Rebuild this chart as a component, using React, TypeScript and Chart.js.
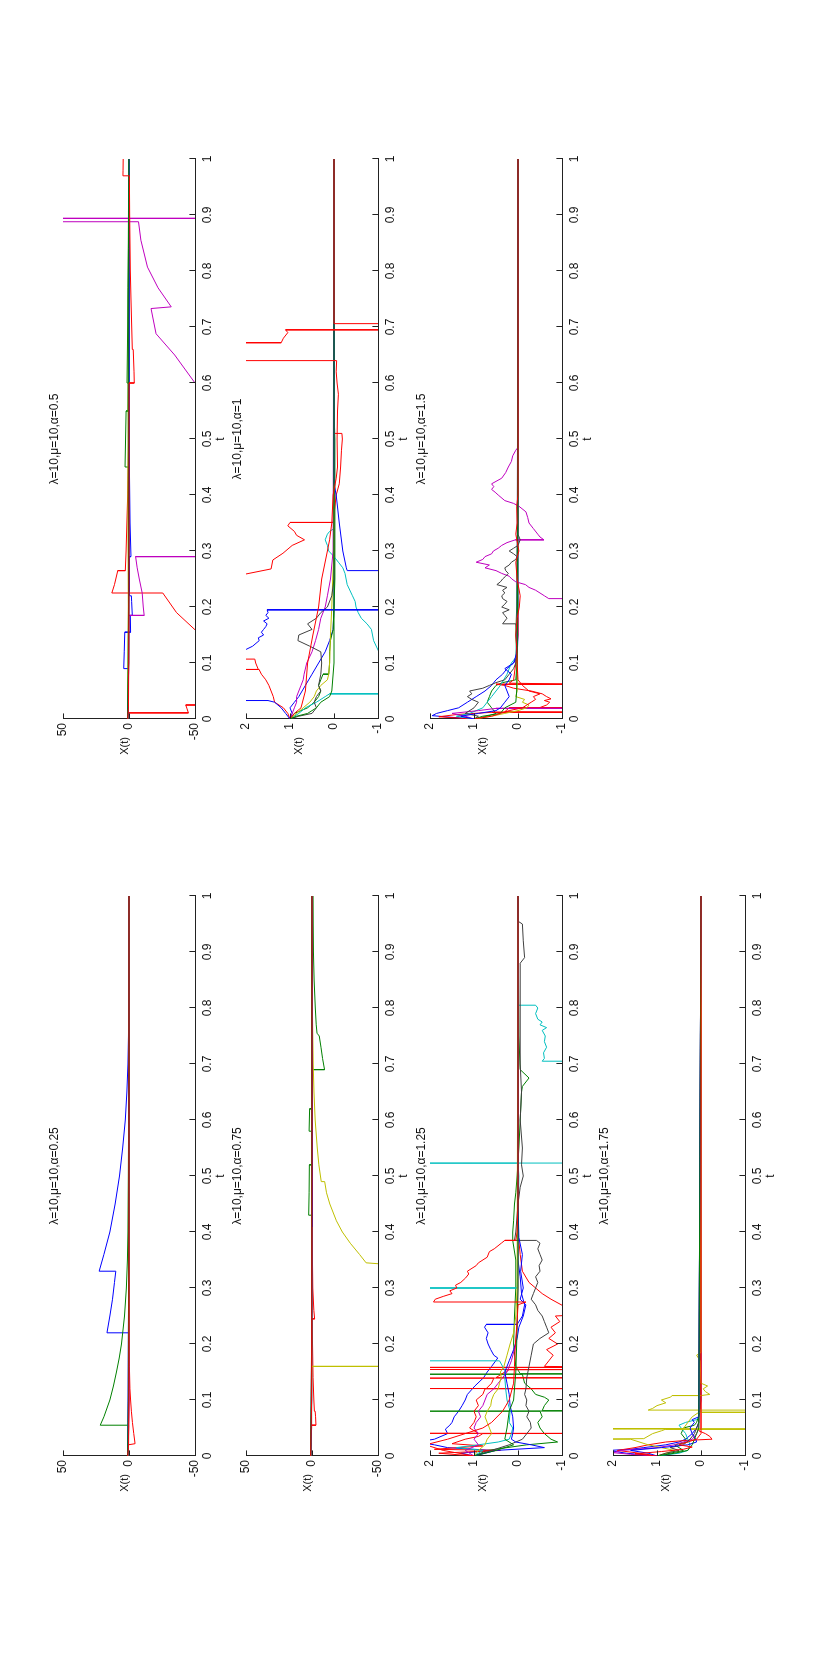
import React, { useEffect, useRef } from "react";
import { Chart, registerables } from "chart.js";

Chart.register(...registerables);

type Path = [number, number][];

// ---------- tick labels ----------
const T_TICKS = [0, 0.1, 0.2, 0.3, 0.4, 0.5, 0.6, 0.7, 0.8, 0.9, 1];
const BIG_TICKS = [-50, 0, 50];
const SMALL_TICKS = [-1, 0, 1, 2];

// ---------- alpha = 0.25 ----------
const p025_1: Path = [[0,1],[0.05,0.6],[0.1,0.4],[0.15,0.3],[0.22,0.2],[0.22,16.7],[0.25,14.5],[0.28,12.5],[0.31,11],[0.33,10],[0.33,22.6],[0.36,19],[0.4,14.5],[0.45,10.5],[0.5,7.2],[0.55,4.8],[0.6,2.8],[0.65,1.6],[0.7,0.8],[0.75,0.4],[0.85,0.1],[1,0]];
const p025_2: Path = [[0,1],[0.02,0.5],[0.055,0.3],[0.055,21.8],[0.07,19],[0.1,14.5],[0.125,11.8],[0.15,9.5],[0.175,7.4],[0.2,5.7],[0.25,3.4],[0.3,2],[0.35,1.2],[0.4,0.8],[0.5,0.5],[0.6,0.3],[0.7,0.1],[1,0]];
const p025_3: Path = [[0,1],[0.02,0.6],[0.022,-4.6],[0.04,-3.6],[0.06,-2.6],[0.08,-1.8],[0.1,-1.2],[0.12,-0.7],[0.16,-0.3],[0.2,-0.1],[1,0]];
const p025_4: Path = [[0,1],[0.05,0.5],[0.2,0.2],[0.5,0],[1,0]];
const p025_5: Path = [[0,1],[0.04,0.3],[0.1,-0.2],[0.3,0],[1,0]];
const p025_6: Path = [[0,1],[0.1,0.4],[0.4,0.1],[1,0]];
const p025_7: Path = [[0,1],[0.03,0.4],[0.2,0.1],[1,0]];
const p025_8: Path = [[0,1],[0.06,0.8],[0.3,0.3],[0.6,0.1],[1,0]];
const p025_9: Path = [[0,1],[0.1,0.5],[0.5,0.2],[0.61,0.1],[1,0]];
const p025_10: Path = [[0,1],[0.02,0.3],[0.1,0.1],[1,0]];

// ---------- alpha = 0.75 ----------
const p075_1: Path = [[0,1],[0.1,0.3],[0.4,0.1],[1,0]];
const p075_2: Path = [[0,1],[0.05,0.3],[0.43,0.1],[0.43,2.5],[0.47,2.2],[0.52,2],[0.52,0.3],[0.58,0.2],[0.58,2.2],[0.62,1.8],[0.62,0.3],[0.69,0.1],[0.69,-9.5],[0.71,-8],[0.73,-6.8],[0.75,-5.5],[0.755,-3.8],[0.77,-3.2],[0.8,-2.5],[0.85,-1.6],[0.9,-1.1],[0.95,-0.9],[1,-0.8]];
const p075_3: Path = [[0,1],[0.03,0.5],[0.055,0.3],[0.055,-3],[0.07,-2.7],[0.08,-2.4],[0.08,-1.8],[0.1,-1.4],[0.14,-0.8],[0.2,-0.4],[0.245,-0.2],[0.245,-2],[0.26,-1.4],[0.3,-0.6],[0.4,-0.1],[1,0]];
const p075_4: Path = [[0,1],[0.1,0.2],[1,0]];
const p075_5: Path = [[0,1],[0.05,0.4],[0.3,0.1],[1,0]];
const p075_6: Path = [[0,1],[0.05,0.5],[0.16,0.2],[0.16,-320],[0.2,-210],[0.25,-130],[0.3,-80],[0.343,-52],[0.345,-41],[0.36,-36],[0.38,-29],[0.4,-23],[0.42,-18.5],[0.45,-13.5],[0.47,-11],[0.49,-9.6],[0.49,-7],[0.52,-5.2],[0.55,-4],[0.6,-2.4],[0.65,-1.5],[0.7,-0.9],[0.8,-0.3],[1,-0.1]];
const p075_7: Path = [[0,1],[0.2,0.3],[0.6,0],[1,0]];
const p075_8: Path = [[0,1],[0.05,0.5],[0.35,0.2],[0.41,0.2],[0.41,-0.3],[0.6,-0.1],[1,0]];
const p075_9: Path = [[0,1],[0.2,0.2],[0.8,0.2],[0.88,0.3],[1,0.1]];
const p075_10: Path = [[0,1],[0.1,0.3],[0.5,0],[1,0]];

// ---------- alpha = 1.25 ----------
const p125_1: Path = [[0,1],[0.005,1.3],[0.01,0.6],[0.015,1.6],[0.02,1.9],[0.025,2.3],[0.03,1.9],[0.04,1.6],[0.048,1.65],[0.055,1.55],[0.06,1.5],[0.07,1.45],[0.08,1.35],[0.09,1.27],[0.1,1.2],[0.11,1.15],[0.125,0.98],[0.14,0.78],[0.15,0.7],[0.16,0.6],[0.175,0.46],[0.18,0.55],[0.19,0.62],[0.2,0.68],[0.21,0.72],[0.22,0.68],[0.23,0.76],[0.235,0.72],[0.235,0.02],[0.25,-0.1],[0.27,-0.15],[0.29,-0.08],[0.32,-0.05],[0.35,0],[1,0]];
const p125_2: Path = [[0,1],[0.01,0.7],[0.02,-0.2],[0.025,-0.9],[0.03,-0.75],[0.04,-0.6],[0.05,-0.5],[0.06,-0.45],[0.07,-0.55],[0.08,-0.5],[0.08,3],[0.0805,-3],[0.081,-0.55],[0.09,-0.6],[0.1,-0.7],[0.105,-0.6],[0.11,-0.4],[0.12,-0.3],[0.13,-0.15],[0.146,-0.1],[0.146,3],[0.1465,-3],[0.147,-0.05],[0.16,0.05],[0.2,0.1],[0.25,0.08],[0.3,0.05],[0.35,0.05],[0.385,0.12],[0.4,0.12],[0.42,0.1],[0.45,0.08],[0.47,0.05],[0.5,0.02],[0.55,-0.02],[0.6,-0.05],[0.65,-0.08],[0.66,-0.1],[0.675,-0.25],[0.69,-0.05],[0.75,-0.02],[1,0]];
const p125_3: Path = [[0,1],[0.005,1.8],[0.01,0.4],[0.012,1.9],[0.018,0.8],[0.022,1.5],[0.03,1.2],[0.035,0.9],[0.04,0.8],[0.04,3],[0.0405,-3],[0.041,0.9],[0.05,1.1],[0.06,1.0],[0.07,0.95],[0.08,1.0],[0.09,0.9],[0.1,0.95],[0.11,0.8],[0.12,0.75],[0.12,3],[0.1205,-3],[0.121,0.72],[0.13,0.6],[0.139,0.55],[0.139,3],[0.1395,-3],[0.14,0.5],[0.15,0.3],[0.154,0.2],[0.154,3],[0.1545,-3],[0.155,0.1],[0.158,0.05],[0.158,3],[0.1585,-3],[0.16,-0.6],[0.17,-0.7],[0.18,-0.8],[0.19,-0.65],[0.2,-0.9],[0.21,-0.7],[0.22,-0.85],[0.23,-0.75],[0.24,-0.95],[0.25,-0.85],[0.255,-2],[0.265,-1.1],[0.28,-0.75],[0.29,-0.55],[0.3,-0.4],[0.31,-0.25],[0.33,-0.1],[0.36,-0.05],[0.4,0],[1,0]];
const p125_4: Path = [[0,1],[0.01,0.8],[0.015,1.4],[0.02,0.9],[0.025,0.45],[0.03,0.2],[0.04,0.15],[0.05,0.12],[0.06,0.2],[0.08,0.18],[0.1,0.25],[0.12,0.28],[0.14,0.3],[0.15,0.28],[0.17,0.42],[0.17,20],[0.3,5.7],[0.3,0.02],[0.32,0.01],[0.4,0],[0.5,-0.02],[0.523,0],[0.523,3],[0.524,-25],[0.55,-17],[0.6,-10],[0.65,-6],[0.705,-3.3],[0.705,-0.55],[0.71,-0.6],[0.72,-0.58],[0.73,-0.65],[0.74,-0.6],[0.75,-0.62],[0.76,-0.55],[0.765,-0.65],[0.77,-0.5],[0.775,-0.55],[0.78,-0.45],[0.79,-0.4],[0.8,-0.45],[0.805,-0.4],[0.805,0],[1,0]];
const p125_5: Path = [[0,1],[0.01,1.2],[0.02,0.9],[0.03,1.0],[0.04,0.9],[0.05,1.0],[0.06,0.95],[0.07,0.85],[0.08,0.9],[0.09,0.8],[0.1,0.75],[0.11,0.7],[0.12,0.55],[0.13,0.45],[0.14,0.35],[0.15,0.25],[0.17,0.15],[0.2,0.05],[0.23,0.02],[0.3,0],[1,0]];
const p125_6: Path = [[0,1],[0.01,0.9],[0.02,0.75],[0.03,0.7],[0.04,0.6],[0.05,0.65],[0.06,0.7],[0.07,0.75],[0.08,0.7],[0.09,0.62],[0.1,0.6],[0.11,0.55],[0.12,0.45],[0.13,0.42],[0.14,0.38],[0.15,0.4],[0.16,0.32],[0.18,0.25],[0.2,0.18],[0.22,0.1],[0.25,0.05],[0.3,0.02],[1,0]];
const p125_7: Path = [[0,1],[0.01,0.6],[0.02,0.2],[0.03,-0.1],[0.04,-0.2],[0.05,-0.3],[0.06,-0.28],[0.07,-0.2],[0.08,-0.25],[0.09,-0.18],[0.1,-0.2],[0.11,-0.15],[0.12,-0.18],[0.14,-0.2],[0.16,-0.25],[0.18,-0.3],[0.2,-0.35],[0.21,-0.5],[0.22,-0.7],[0.23,-0.65],[0.24,-0.6],[0.25,-0.55],[0.26,-0.45],[0.27,-0.4],[0.28,-0.3],[0.29,-0.35],[0.3,-0.4],[0.31,-0.45],[0.32,-0.4],[0.33,-0.5],[0.34,-0.48],[0.35,-0.55],[0.36,-0.5],[0.37,-0.45],[0.38,-0.5],[0.385,-0.42],[0.385,0.08],[0.4,0.05],[0.45,0],[0.48,-0.05],[0.5,-0.12],[0.52,-0.08],[0.55,-0.1],[0.6,-0.05],[0.65,-0.08],[0.7,-0.05],[0.8,-0.05],[0.88,-0.05],[0.89,-0.15],[0.92,-0.12],[0.95,-0.1],[0.955,0],[1,0]];
const p125_8: Path = [[0,1],[0.01,0.5],[0.015,-0.6],[0.02,-0.3],[0.025,0.05],[0.03,0.15],[0.04,0.12],[0.05,0.1],[0.07,0.12],[0.09,0.18],[0.11,0.2],[0.13,0.25],[0.15,0.3],[0.17,0.2],[0.19,0.1],[0.21,0.02],[0.23,-0.02],[0.25,-0.12],[0.27,-0.18],[0.28,-0.05],[0.3,-0.12],[0.33,-0.06],[0.36,-0.1],[0.39,-0.02],[0.45,0],[1,0]];
const p125_9: Path = [[0,1],[0.01,0.5],[0.02,0.1],[0.03,0.3],[0.05,0.25],[0.08,0.2],[0.1,0.1],[0.15,0.05],[0.2,0.03],[0.3,0],[1,0]];
const p125_10: Path = [[0,1],[0.01,1.7],[0.02,2.1],[0.03,1.6],[0.04,1.2],[0.05,0.8],[0.06,0.6],[0.08,0.35],[0.1,0.2],[0.13,0.1],[0.16,0.08],[0.2,0.06],[0.24,0.02],[0.27,0],[0.275,-0.18],[0.275,1.92],[0.28,1.88],[0.285,1.7],[0.29,1.5],[0.295,1.55],[0.3,1.39],[0.305,1.42],[0.31,1.3],[0.318,1.19],[0.325,1.12],[0.33,1.15],[0.34,0.95],[0.345,0.9],[0.355,0.7],[0.365,0.65],[0.37,0.54],[0.38,0.38],[0.385,0.3],[0.385,0.05],[0.4,0.02],[0.45,0],[1,0]];

// ---------- alpha = 1.75 ----------
const p175_1: Path = [[0,1],[0.005,1.7],[0.01,2.1],[0.012,1.6],[0.015,1.3],[0.02,0.8],[0.025,0.5],[0.03,0.35],[0.04,0.2],[0.05,0.1],[0.06,0.05],[0.07,0.05],[0.1,0],[1,0]];
const p175_2: Path = [[0,1],[0.005,0.7],[0.01,0.4],[0.015,0.5],[0.02,0.6],[0.025,0.3],[0.03,0.35],[0.04,0.45],[0.05,0.4],[0.055,0.15],[0.06,0.1],[0.08,0.02],[1,0]];
const p175_3: Path = [[0,1],[0.005,1.4],[0.01,1.9],[0.015,1.5],[0.02,1.2],[0.025,0.8],[0.028,0.3],[0.03,-0.25],[0.035,-0.2],[0.04,-0.1],[0.045,0.05],[0.05,0],[1,0]];
const p175_4: Path = [[0,1],[0.005,0.5],[0.01,0.3],[0.02,0.25],[0.03,0.3],[0.04,0.35],[0.05,0.45],[0.055,0.5],[0.06,0.35],[0.065,0.1],[0.07,0.05],[1,0]];
const p175_5: Path = [[0,1],[0.003,1.6],[0.006,2.0],[0.01,1.8],[0.015,1.0],[0.02,0.6],[0.025,0.4],[0.03,0.2],[0.04,0.1],[0.05,0.05],[1,0]];
const p175_6: Path = [[0,1],[0.01,0.6],[0.02,1.2],[0.03,1.6],[0.03,3],[0.031,1.3],[0.04,1.1],[0.045,0.9],[0.048,0.8],[0.048,-3],[0.0485,3],[0.049,0.4],[0.06,0.3],[0.07,0.2],[0.078,0.05],[0.078,-1.5],[0.082,-1.3],[0.082,1.2],[0.085,1.1],[0.09,1.0],[0.095,0.8],[0.1,0.9],[0.105,0.7],[0.108,0.65],[0.108,0],[0.11,-0.2],[0.115,-0.1],[0.12,-0.05],[0.125,-0.15],[0.13,0],[0.17,0.02],[0.18,0.1],[0.185,0],[1,0]];
const p175_7: Path = [[0,1],[0.005,0.8],[0.01,0.5],[0.015,0.7],[0.02,0.4],[0.03,0.25],[0.04,0.15],[0.05,0.1],[0.06,0.05],[1,0]];
const p175_8: Path = [[0,1],[0.005,1.2],[0.01,1.6],[0.015,0.9],[0.02,0.3],[0.025,0.1],[0.03,0.12],[0.04,0.2],[0.05,0.25],[0.06,0.15],[0.065,0.2],[0.07,0.05],[1,0]];
const p175_9: Path = [[0,1],[0.005,0.6],[0.01,0.3],[0.02,0.2],[0.03,0.15],[0.04,0.1],[0.05,0.05],[1,0]];
const p175_10: Path = [[0,1],[0.004,1.5],[0.008,0.9],[0.012,0.4],[0.016,0.2],[0.02,0.5],[0.025,0.3],[0.03,0.1],[0.04,0],[1,0]];

// ---------- alpha = 0.5 ----------
const p050_1: Path = [[0,1],[0.05,0.5],[0.09,0.3],[0.09,4],[0.12,3.6],[0.155,3.2],[0.155,-1.2],[0.185,-1],[0.185,-2.5],[0.21,-2],[0.22,-1.8],[0.22,-0.4],[0.29,-0.3],[0.29,-1.5],[0.35,-0.8],[0.45,-0.3],[0.6,-0.1],[1,0]];
const p050_2: Path = [[0,1],[0.1,0.3],[0.45,0.1],[0.45,3],[0.5,2.6],[0.55,2.2],[0.55,0.8],[0.6,0.6],[0.6,1.5],[0.7,1],[0.77,0.8],[0.85,0.5],[1,0.2]];
const p050_3: Path = [[0,1],[0.011,0.5],[0.011,-45],[0.018,-44],[0.025,-43],[0.025,-200],[0.05,-155],[0.1,-95],[0.155,-52],[0.19,-36],[0.225,-25.6],[0.225,13],[0.24,11],[0.265,8.5],[0.265,2.8],[0.3,2.2],[0.35,1.6],[0.4,1],[0.45,0.6],[0.5,0.3],[0.6,0.1],[1,0]];
const p050_4: Path = [[0,1],[0.1,0.3],[0.5,0.1],[1,0]];
const p050_5: Path = [[0,1],[0.1,0.3],[0.185,0.1],[0.185,-11.5],[0.2,-10.8],[0.225,-10],[0.25,-7.8],[0.27,-6.2],[0.29,-5],[0.29,-1000],[0.4,-330],[0.5,-120],[0.6,-50],[0.65,-34.6],[0.688,-20.5],[0.733,-16.7],[0.736,-32],[0.77,-22],[0.807,-14],[0.855,-9],[0.888,-7.2],[0.888,300],[0.894,290],[0.894,-800],[1,-280]];
const p050_6: Path = [[0,1],[0.2,0.5],[0.4,0.8],[0.6,0.5],[0.85,0.3],[1,0.2]];
const p050_7: Path = [[0,1],[0.1,0.2],[1,0]];
const p050_8: Path = [[0,1],[0.05,0.4],[0.3,0],[1,0]];
const p050_9: Path = [[0,1],[0.2,0.4],[0.75,0.6],[0.84,0.4],[1,0.1]];
const p050_10: Path = [[0,1],[0.02,0.4],[0.1,0.2],[0.3,0],[0.6,0],[0.6,-4],[0.62,-3.8],[0.66,-3.2],[0.66,-2.5],[0.75,-1.5],[0.8,-1],[0.9,-0.5],[0.97,-0.3],[0.97,4.6],[0.98,4.5],[1,4.4]];

// ---------- alpha = 1 ----------
const p100_1: Path = [[0,1],[0.01,0.95],[0.02,1.0],[0.03,0.9],[0.04,0.8],[0.06,0.65],[0.08,0.5],[0.1,0.35],[0.12,0.2],[0.14,0.1],[0.16,0.02],[0.2,0],[1,0]];
const p100_2: Path = [[0,1],[0.01,0.9],[0.02,0.6],[0.03,0.45],[0.04,0.35],[0.05,0.3],[0.06,0.35],[0.07,0.3],[0.08,0.25],[0.08,0.12],[0.1,0.1],[0.12,0.1],[0.14,0.08],[0.16,0.02],[0.2,0],[0.25,-0.02],[0.5,-0.02],[0.55,0],[1,0]];
const p100_3: Path = [[0,1],[0.01,1.05],[0.02,1.15],[0.03,1.35],[0.04,1.38],[0.05,1.43],[0.06,1.48],[0.07,1.55],[0.08,1.65],[0.088,1.7],[0.088,2.5],[0.089,1.72],[0.1,1.78],[0.107,1.8],[0.107,9.2],[0.15,6],[0.2,3.6],[0.259,2.0],[0.268,1.43],[0.284,1.39],[0.296,1.16],[0.31,0.95],[0.32,0.67],[0.328,0.85],[0.335,0.9],[0.345,1.05],[0.351,1.0],[0.351,0.02],[0.4,-0.05],[0.42,-0.12],[0.45,-0.15],[0.48,-0.17],[0.5,-0.19],[0.51,-0.18],[0.51,0],[1,0]];
const p100_4: Path = [[0,1],[0.01,0.8],[0.02,0.65],[0.03,0.4],[0.04,0.2],[0.045,0.1],[0.045,-2],[0.09,-1.3],[0.12,-1.02],[0.14,-0.9],[0.16,-0.85],[0.17,-0.75],[0.18,-0.62],[0.19,-0.55],[0.2,-0.5],[0.21,-0.48],[0.22,-0.42],[0.24,-0.3],[0.26,-0.25],[0.27,-0.2],[0.28,-0.1],[0.29,0],[0.3,0.12],[0.31,0.15],[0.32,0.2],[0.33,0.15],[0.335,0.1],[0.34,0],[1,0]];
const p100_5: Path = [[0,1],[0.01,0.95],[0.02,0.9],[0.03,0.85],[0.04,0.85],[0.05,0.8],[0.06,0.75],[0.07,0.7],[0.08,0.68],[0.1,0.62],[0.12,0.5],[0.14,0.42],[0.16,0.35],[0.18,0.3],[0.2,0.2],[0.22,0.15],[0.25,0.08],[0.3,0.02],[1,0]];
const p100_6: Path = [[0,1],[0.01,0.85],[0.02,0.7],[0.03,0.55],[0.04,0.45],[0.05,0.4],[0.06,0.3],[0.07,0.15],[0.08,0.12],[0.1,0.1],[0.15,0.08],[0.2,0.05],[0.25,0.03],[0.3,0],[1,0]];
const p100_7: Path = [[0,1],[0.005,0.8],[0.01,0.5],[0.02,0.4],[0.03,0.45],[0.04,0.4],[0.05,0.3],[0.06,0.35],[0.08,0.3],[0.1,0.28],[0.12,0.3],[0.13,0.55],[0.14,0.82],[0.15,0.8],[0.16,0.5],[0.17,0.6],[0.18,0.4],[0.19,0.3],[0.2,0.15],[0.22,0.05],[0.25,0],[1,0]];
const p100_8: Path = [[0,1],[0.01,1.1],[0.02,1.2],[0.03,1.35],[0.033,1.5],[0.033,4.8],[0.06,3.7],[0.1,2.5],[0.125,1.98],[0.13,1.85],[0.14,1.7],[0.145,1.72],[0.15,1.6],[0.155,1.65],[0.16,1.6],[0.165,1.55],[0.17,1.52],[0.175,1.6],[0.18,1.48],[0.185,1.55],[0.19,1.5],[0.195,1.52],[0.195,-4],[0.23,-2.8],[0.265,-2],[0.265,-0.3],[0.27,-0.28],[0.3,-0.2],[0.35,-0.12],[0.4,-0.05],[0.42,0],[1,0]];
const p100_9: Path = [[0,1],[0.005,0.85],[0.01,0.6],[0.02,0.4],[0.03,0.3],[0.04,0.1],[0.05,0.05],[0.1,0],[1,0]];
const p100_10: Path = [[0,1],[0.01,0.9],[0.02,0.75],[0.05,0.65],[0.1,0.6],[0.15,0.48],[0.2,0.35],[0.25,0.28],[0.3,0.15],[0.32,0.1],[0.35,0.05],[0.4,0.02],[0.43,-0.05],[0.45,-0.08],[0.5,-0.07],[0.55,-0.08],[0.58,-0.1],[0.6,-0.07],[0.62,-0.05],[0.64,-0.06],[0.64,3],[0.672,2.3],[0.672,1.2],[0.68,1.15],[0.69,1.05],[0.695,1.1],[0.695,-1.8],[0.706,-1.6],[0.706,0],[1,0]];

// ---------- alpha = 1.5 ----------
const p150_1: Path = [[0,1],[0.003,1.5],[0.006,1.95],[0.01,1.85],[0.015,1.6],[0.02,1.35],[0.03,1.15],[0.04,0.95],[0.05,0.75],[0.06,0.6],[0.07,0.5],[0.08,0.35],[0.09,0.25],[0.1,0.1],[0.11,0.02],[0.15,0],[1,0]];
const p150_2: Path = [[0,1],[0.005,0.7],[0.01,0.5],[0.02,0.6],[0.03,0.7],[0.04,0.65],[0.05,0.6],[0.06,0.5],[0.065,0.35],[0.07,0.05],[0.1,0.02],[0.15,0.05],[0.2,0.03],[0.3,0.02],[0.35,0],[1,0]];
const p150_3: Path = [[0,1],[0.004,1.8],[0.008,1.4],[0.012,0.6],[0.012,-2],[0.013,0.3],[0.02,0.2],[0.02,-2],[0.021,-0.5],[0.025,-0.65],[0.03,-0.72],[0.033,-0.6],[0.036,-0.75],[0.04,-0.65],[0.045,-0.55],[0.05,-0.3],[0.055,0.1],[0.06,0.3],[0.062,0.5],[0.062,-1.5],[0.064,0.2],[0.07,0.1],[0.1,0.05],[0.15,0],[1,0]];
const p150_4: Path = [[0,1],[0.005,1.4],[0.01,1.1],[0.02,0.8],[0.03,0.7],[0.04,0.6],[0.05,0.5],[0.06,0.4],[0.08,0.25],[0.1,0.15],[0.105,0.1],[0.11,0.05],[0.2,0],[1,0]];
const p150_5: Path = [[0,1],[0.005,1.2],[0.01,1.5],[0.015,0.9],[0.019,0.5],[0.019,-15],[0.1,-6.7],[0.15,-4],[0.215,-2.1],[0.215,-0.7],[0.22,-0.6],[0.225,-0.5],[0.23,-0.4],[0.235,-0.25],[0.24,-0.17],[0.245,0.05],[0.25,0.14],[0.255,0.2],[0.26,0.37],[0.265,0.5],[0.27,0.75],[0.275,0.65],[0.28,0.95],[0.285,0.8],[0.29,0.75],[0.295,0.6],[0.3,0.56],[0.305,0.45],[0.31,0.37],[0.315,0.25],[0.32,0.06],[0.32,-0.59],[0.325,-0.5],[0.33,-0.45],[0.34,-0.35],[0.35,-0.25],[0.36,-0.22],[0.37,-0.18],[0.38,-0.02],[0.385,0.1],[0.39,0.3],[0.4,0.45],[0.405,0.52],[0.41,0.6],[0.415,0.55],[0.42,0.6],[0.43,0.37],[0.44,0.28],[0.45,0.22],[0.46,0.15],[0.47,0.12],[0.48,0.05],[0.485,0],[1,0]];
const p150_6: Path = [[0,1],[0.005,0.6],[0.01,0.3],[0.015,0],[0.02,-0.2],[0.025,-0.25],[0.03,-0.1],[0.035,-0.15],[0.04,0.05],[0.05,0.02],[1,0]];
const p150_7: Path = [[0,1],[0.005,0.9],[0.01,1.2],[0.02,1.0],[0.03,0.9],[0.035,1.05],[0.04,1.15],[0.045,1.05],[0.05,1.1],[0.055,0.8],[0.06,0.65],[0.065,0.5],[0.07,0.3],[0.08,0.2],[0.09,0.1],[0.1,0.05],[0.15,0.02],[0.17,0.05],[0.17,0.35],[0.175,0.3],[0.18,0.25],[0.185,0.3],[0.19,0.35],[0.195,0.2],[0.2,0.37],[0.205,0.3],[0.21,0.25],[0.215,0.35],[0.22,0.37],[0.225,0.3],[0.23,0.35],[0.235,0.25],[0.24,0.48],[0.245,0.4],[0.25,0.35],[0.255,0.28],[0.26,0.22],[0.265,0.28],[0.27,0.3],[0.275,0.2],[0.28,0.15],[0.285,0.05],[0.29,0.02],[0.295,0.1],[0.3,0.2],[0.305,0.1],[0.31,0],[0.32,-0.05],[0.33,0],[1,0]];
const p150_8: Path = [[0,1],[0.005,1.3],[0.01,0.9],[0.015,0.5],[0.02,0.4],[0.03,0.3],[0.04,0.2],[0.05,0.25],[0.06,0.3],[0.07,0.2],[0.08,0.15],[0.09,0.3],[0.1,0.1],[0.12,0.02],[1,0]];
const p150_9: Path = [[0,1],[0.005,0.8],[0.01,0.4],[0.02,0.3],[0.03,0.05],[0.05,0.03],[0.1,0.02],[0.2,0.01],[1,0]];
const p150_10: Path = [[0,1],[0.005,0.6],[0.01,0.4],[0.015,0.2],[0.02,-0.1],[0.03,-0.3],[0.035,-0.4],[0.04,-0.35],[0.045,-0.5],[0.05,-0.25],[0.06,-0.1],[0.07,0],[0.1,0.02],[0.13,0.03],[0.15,0.05],[0.18,0.02],[0.2,-0.03],[0.22,-0.05],[0.25,0.02],[0.28,0.05],[0.3,-0.02],[0.33,0.05],[0.35,0.02],[0.38,0.03],[0.4,0],[1,0]];

// ---------- styling / layout ----------
const COLORS = ["#0000FF", "#008000", "#FF0000", "#00BFBF", "#BF00BF", "#BFBF00", "#404040", "#0000FF", "#008000", "#FF0000"];
const FONT = '"Liberation Sans", Arial, Helvetica, sans-serif';
const AXIS_COLOR = "#222";
const TEXT_COLOR = "#111";

const FIG_W = 1674;
const FIG_H = 837;
const COL_LEFT = [218, 955];
const ROW_TOP = [63, 246, 430, 613];
const PW = 560;
const PH = 132;
const ML = 70;
const MR = 14;
const MT = 24;
const MB = 40;

type PanelCfg = {
  title: string;
  col: number;
  row: number;
  yMin: number;
  yMax: number;
  yTicks: number[];
  ylabelAt: number;
  paths: Path[];
};

const PANELS: PanelCfg[] = [
  { title: "λ=10,μ=10,α=0.25", col: 0, row: 0, yMin: -50, yMax: 50, yTicks: BIG_TICKS, ylabelAt: 3,
    paths: [p025_1, p025_2, p025_3, p025_4, p025_5, p025_6, p025_7, p025_8, p025_9, p025_10] },
  { title: "λ=10,μ=10,α=0.75", col: 0, row: 1, yMin: -50, yMax: 50, yTicks: BIG_TICKS, ylabelAt: 3,
    paths: [p075_1, p075_2, p075_3, p075_4, p075_5, p075_6, p075_7, p075_8, p075_9, p075_10] },
  { title: "λ=10,μ=10,α=1.25", col: 0, row: 2, yMin: -1, yMax: 2, yTicks: SMALL_TICKS, ylabelAt: 0.8,
    paths: [p125_1, p125_2, p125_3, p125_4, p125_5, p125_6, p125_7, p125_8, p125_9, p125_10] },
  { title: "λ=10,μ=10,α=1.75", col: 0, row: 3, yMin: -1, yMax: 2, yTicks: SMALL_TICKS, ylabelAt: 0.8,
    paths: [p175_1, p175_2, p175_3, p175_4, p175_5, p175_6, p175_7, p175_8, p175_9, p175_10] },
  { title: "λ=10,μ=10,α=0.5", col: 1, row: 0, yMin: -50, yMax: 50, yTicks: BIG_TICKS, ylabelAt: 3,
    paths: [p050_1, p050_2, p050_3, p050_4, p050_5, p050_6, p050_7, p050_8, p050_9, p050_10] },
  { title: "λ=10,μ=10,α=1", col: 1, row: 1, yMin: -1, yMax: 2, yTicks: SMALL_TICKS, ylabelAt: 0.8,
    paths: [p100_1, p100_2, p100_3, p100_4, p100_5, p100_6, p100_7, p100_8, p100_9, p100_10] },
  { title: "λ=10,μ=10,α=1.5", col: 1, row: 2, yMin: -1, yMax: 2, yTicks: SMALL_TICKS, ylabelAt: 0.8,
    paths: [p150_1, p150_2, p150_3, p150_4, p150_5, p150_6, p150_7, p150_8, p150_9, p150_10] },
];

// draws MATLAB-style inward tick marks and the horizontal "X(t)" label
const matlabPlugin = {
  id: "matlab",
  afterDraw(chart: any, _args: any, opts: any) {
    const { ctx, chartArea, scales } = chart;
    const xs = scales.x;
    const ys = scales.y;
    const len = 5.6;
    ctx.save();
    ctx.strokeStyle = AXIS_COLOR;
    ctx.lineWidth = 1;
    ctx.beginPath();
    xs.ticks.forEach((t: any) => {
      const px = Math.round(xs.getPixelForValue(t.value)) + 0.5;
      ctx.moveTo(px, chartArea.bottom + 0.5);
      ctx.lineTo(px, chartArea.bottom - len);
    });
    ys.ticks.forEach((t: any) => {
      const py = Math.round(ys.getPixelForValue(t.value)) + 0.5;
      ctx.moveTo(chartArea.left, py);
      ctx.lineTo(chartArea.left + len, py);
    });
    ctx.stroke();
    ctx.fillStyle = TEXT_COLOR;
    ctx.font = `11px ${FONT}`;
    ctx.textAlign = "right";
    ctx.textBaseline = "middle";
    ctx.fillText(opts.ylabel, chartArea.left - 18, ys.getPixelForValue(opts.ylabelAt));
    ctx.restore();
  },
};

function Panel({ cfg }: { cfg: PanelCfg }) {
  const ref = useRef<HTMLCanvasElement | null>(null);
  const width = PW + ML + MR;
  const height = PH + MT + MB;
  useEffect(() => {
    if (!ref.current) return;
    const tickFont = { family: FONT, size: 12, weight: "normal" as const, lineHeight: 1.2 };
    const chart = new Chart(ref.current, {
      type: "line",
      data: {
        datasets: cfg.paths.map((p, i) => ({
          data: p.map(([t, v]) => ({ x: t, y: v })),
          borderColor: COLORS[i],
          backgroundColor: COLORS[i],
          borderWidth: 1,
          pointRadius: 0,
          pointHoverRadius: 0,
          fill: false,
          tension: 0,
          order: cfg.paths.length - i,
        })),
      },
      options: {
        animation: false,
        responsive: false,
        devicePixelRatio: 1,
        events: [],
        layout: { padding: { left: 0, top: 0, right: MR, bottom: 0 } },
        plugins: {
          legend: { display: false },
          tooltip: { enabled: false },
          title: {
            display: true,
            text: cfg.title,
            fullSize: false,
            color: TEXT_COLOR,
            font: { family: FONT, size: 12, weight: "normal", lineHeight: 1.2 },
            padding: { top: MT - 14.4 - 1, bottom: 1 },
          },
          // @ts-ignore
          matlab: { ylabel: "X(t)", ylabelAt: cfg.ylabelAt },
        },
        scales: {
          x: {
            type: "linear",
            position: "bottom",
            min: 0,
            max: 1,
            grid: { display: false, drawTicks: false },
            border: { display: true, color: AXIS_COLOR, width: 1 },
            ticks: {
              font: tickFont,
              color: TEXT_COLOR,
              padding: 5,
              autoSkip: false,
              maxRotation: 0,
              minRotation: 0,
              callback: (v: any) => String(v),
            },
            title: {
              display: true,
              text: "t",
              color: TEXT_COLOR,
              font: { family: FONT, size: 12, weight: "normal", lineHeight: 1.2 },
              padding: { top: 0, bottom: 7 },
            },
            afterBuildTicks: (s: any) => {
              s.ticks = T_TICKS.map((v) => ({ value: v }));
            },
            afterFit: (s: any) => {
              s.height = MB;
              s.paddingLeft = 0;
              s.paddingRight = 0;
            },
          },
          y: {
            type: "linear",
            position: "left",
            min: cfg.yMin,
            max: cfg.yMax,
            grid: { display: false, drawTicks: false },
            border: { display: true, color: AXIS_COLOR, width: 1 },
            ticks: {
              font: tickFont,
              color: TEXT_COLOR,
              padding: 4,
              autoSkip: false,
              callback: (v: any) => String(v),
            },
            afterBuildTicks: (s: any) => {
              s.ticks = cfg.yTicks.map((v) => ({ value: v }));
            },
            afterFit: (s: any) => {
              s.width = ML;
              s.paddingTop = 0;
              s.paddingBottom = 0;
            },
          },
        },
      } as any,
      plugins: [matlabPlugin as any],
    });
    return () => chart.destroy();
  }, [cfg]);
  return (
    <canvas
      ref={ref}
      width={width}
      height={height}
      style={{
        position: "absolute",
        left: COL_LEFT[cfg.col] - ML,
        top: ROW_TOP[cfg.row] - MT,
        width,
        height,
        display: "block",
      }}
    />
  );
}

export default function App() {
  return (
    <div
      style={{
        position: "absolute",
        left: 0,
        top: 0,
        width: FIG_H,
        height: FIG_W,
        overflow: "hidden",
        background: "#fff",
      }}
    >
      <div
        style={{
          position: "absolute",
          left: 0,
          top: 0,
          width: FIG_W,
          height: FIG_H,
          transformOrigin: "0 0",
          transform: `translate(0px, ${FIG_W}px) rotate(-90deg)`,
        }}
      >
        {PANELS.map((p) => (
          <Panel key={p.title} cfg={p} />
        ))}
      </div>
    </div>
  );
}
